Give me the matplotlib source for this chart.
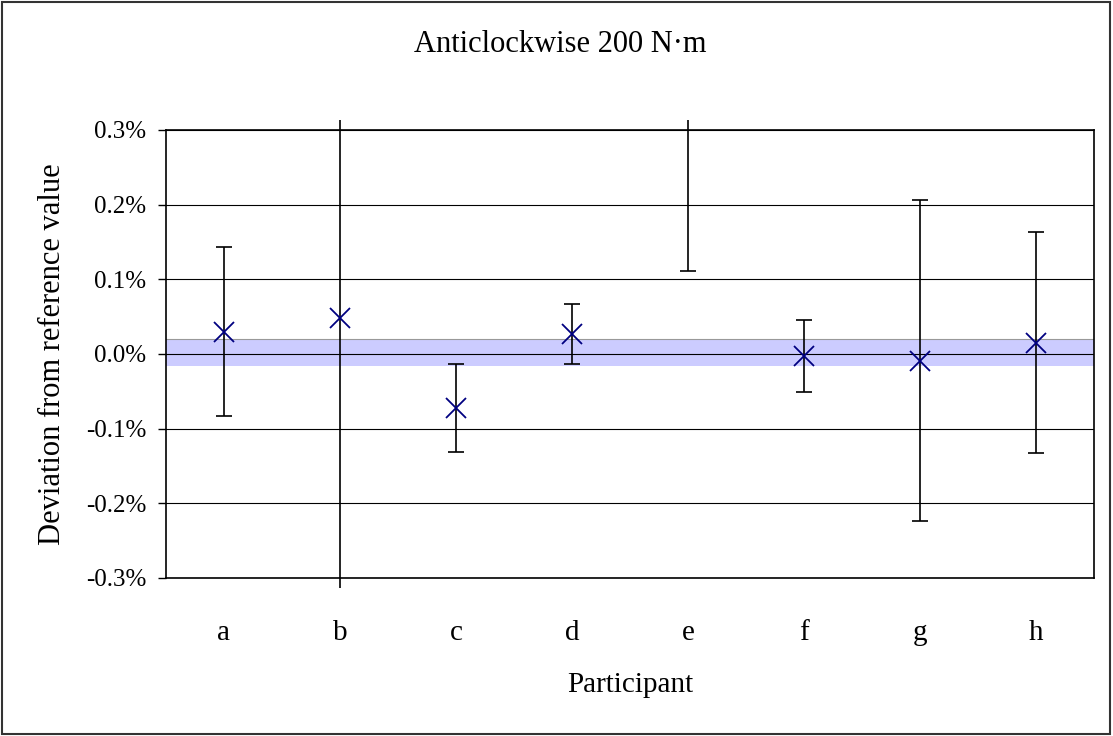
import matplotlib.pyplot as plt
from matplotlib.patches import Rectangle
from matplotlib.ticker import FuncFormatter, MultipleLocator

participants = ["a", "b", "c", "d", "e", "f", "g", "h"]
# deviation from reference value, in %
deviation = [0.030, 0.048, -0.072, 0.027, 0.50, -0.003, -0.009, 0.015]
uncertainty = [0.113, 0.40, 0.059, 0.040, 0.389, 0.048, 0.215, 0.148]
# reference value uncertainty band, in %
band_low, band_high = -0.016, 0.020

plt.rcParams["font.family"] = ["Liberation Serif", "DejaVu Serif"]

fig = plt.figure(figsize=(11.13, 7.36), dpi=100)
ax = fig.add_axes([0.1491, 0.2147, 0.8338, 0.6087])

x = list(range(len(participants)))

ax.axhspan(band_low, band_high, color="#ccccff", zorder=0, lw=0)
ax.axhline(band_high, color="#999999", lw=0.8, zorder=0.5)

# error bars are allowed to run a little past the plot area, like the original
clip = Rectangle((0, -0.0223), 1, 1.0446, transform=ax.transAxes,
                 fill=False, visible=False)
ax.add_patch(clip)
eb = ax.errorbar(x, deviation, yerr=uncertainty, fmt="none", ecolor="black",
                 elinewidth=1.2, capsize=5.5, capthick=1.2, zorder=3)
for line in eb.lines[1]:
    line.set_clip_path(clip)
for coll in eb.lines[2]:
    coll.set_clip_path(clip)

ax.plot(x, deviation, linestyle="none", marker="x", markersize=15,
        markeredgewidth=1.3, color="#000080", zorder=4)

ax.set_xlim(-0.5, len(participants) - 0.5)
ax.set_ylim(-0.3, 0.3)
ax.yaxis.set_major_locator(MultipleLocator(0.1))
ax.yaxis.set_major_formatter(FuncFormatter(lambda v, p: f"{v:.1f}%"))
ax.set_xticks(x)
ax.set_xticklabels(participants, fontsize=21)
ax.tick_params(axis="x", length=0, pad=30)
ax.tick_params(axis="y", length=6, width=1, labelsize=18, pad=8,
               direction="out")
ax.grid(axis="y", color="black", lw=0.8, zorder=1)
for s in ax.spines.values():
    s.set_linewidth(1.2)
    s.set_color("black")

fig.text(560 / 1113, 1 - 44 / 736, "Anticlockwise 200 N·m", fontsize=22,
         ha="center", va="center")
ax.set_xlabel("Participant", fontsize=21, labelpad=19)
ax.set_ylabel("Deviation from reference value", fontsize=22, labelpad=14)

fig.add_artist(Rectangle((0.002, 0.003), 0.995, 0.994, transform=fig.transFigure,
                         fill=False, edgecolor="#333333", lw=1.5))

fig.savefig("out.png", dpi=100)
